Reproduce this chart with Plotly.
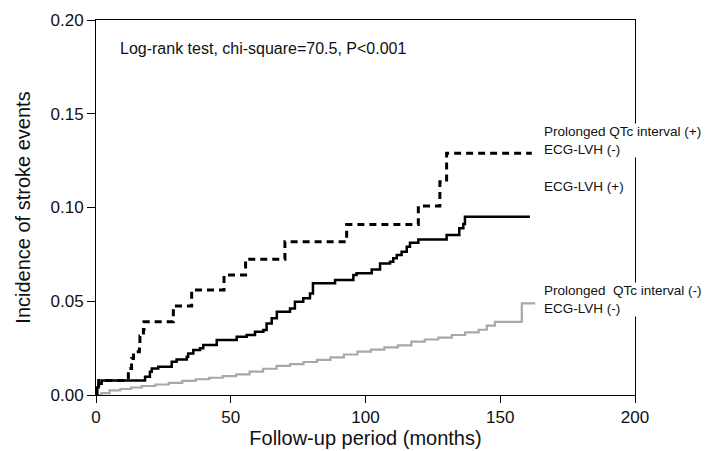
import plotly.graph_objects as go

# Prolonged QTc (+), ECG-LVH (-)  (dashed)
qtc_pos_months = [0, 0.4, 1.0, 12.0, 13.2, 13.9, 16.1, 16.3, 17.6, 17.8, 28.7, 35.5, 47.5, 55.5, 70.1, 93.0, 119.6, 127.6, 130.1, 161.7]
qtc_pos_values = [0, 0.005, 0.0078, 0.0142, 0.0195, 0.0231, 0.0267, 0.0315, 0.035, 0.0391, 0.0475, 0.056, 0.064, 0.0724, 0.0818, 0.091, 0.1008, 0.1138, 0.129, 0.129]

# ECG-LVH (+)  (solid black)
lvh_pos_months = [0, 0.3, 0.9, 2.1, 18.2, 20.0, 20.7, 23.1, 28.1, 29.9, 33.7, 34.2, 36.1, 38.6, 39.8, 44.8, 52.2, 55.9, 59.0, 62.1, 63.3, 65.2, 67.1, 72.0, 73.8, 76.9, 79.4, 80.5, 88.7, 95.5, 96.7, 102.3, 105.4, 109.1, 110.3, 111.6, 113.4, 115.3, 116.5, 119.6, 130.1, 134.8, 136.3, 136.9, 161.0]
lvh_pos_values = [0, 0.004, 0.006, 0.0078, 0.0098, 0.0124, 0.0142, 0.0151, 0.0178, 0.019, 0.0204, 0.0222, 0.024, 0.0249, 0.0267, 0.0293, 0.0311, 0.032, 0.0338, 0.0347, 0.0382, 0.0409, 0.0444, 0.0462, 0.0498, 0.0516, 0.0542, 0.0596, 0.0613, 0.064, 0.0649, 0.067, 0.0702, 0.0711, 0.0729, 0.0747, 0.0764, 0.0791, 0.0812, 0.083, 0.0853, 0.0889, 0.0912, 0.0951, 0.0951]

# Prolonged QTc (-), ECG-LVH (-)  (gray)
qtc_neg_months = [0, 2, 5, 9, 13, 17, 22, 27, 32, 37, 42, 47, 52, 57, 62, 67, 72, 77, 82, 87, 92, 97, 102, 107, 112, 117, 122, 127, 132, 137, 142, 145, 148, 158, 163]
qtc_neg_values = [0, 0.001, 0.0025, 0.0032, 0.004, 0.0048, 0.0056, 0.0065, 0.0075, 0.0084, 0.0092, 0.0101, 0.011, 0.0125, 0.014, 0.0155, 0.0165, 0.0176, 0.0187, 0.0201, 0.0216, 0.0231, 0.0242, 0.0254, 0.0265, 0.0285, 0.0296, 0.0306, 0.032, 0.0334, 0.0348, 0.037, 0.039, 0.0489, 0.0489]

x_ticks = [0, 50, 100, 150, 200]
y_ticks = [0.00, 0.05, 0.10, 0.15, 0.20]

FONT = "Liberation Sans, Arial, sans-serif"

fig = go.Figure()
fig.add_trace(go.Scatter(x=qtc_neg_months, y=qtc_neg_values, mode="lines", line_shape="hv",
                         line=dict(color="#a8a8a8", width=2.2), showlegend=False))
fig.add_trace(go.Scatter(x=lvh_pos_months, y=lvh_pos_values, mode="lines", line_shape="hv",
                         line=dict(color="black", width=2.5), showlegend=False))
fig.add_trace(go.Scatter(x=qtc_pos_months, y=qtc_pos_values, mode="lines", line_shape="hv",
                         line=dict(color="black", width=3, dash="7px,5px"), showlegend=False))

label_font = dict(family=FONT, size=13.5, color="#111")
fig.add_annotation(x=166.0, y=0.136, xref="x", yref="y", xanchor="left", yanchor="middle", align="left",
                   text="Prolonged QTc interval (+)<br>ECG-LVH (-)", showarrow=False, bgcolor="white",
                   font=label_font, borderpad=0)
fig.add_annotation(x=166.0, y=0.111, xref="x", yref="y", xanchor="left", yanchor="middle", align="left",
                   text="ECG-LVH (+)", showarrow=False, bgcolor="white", font=label_font, borderpad=0)
fig.add_annotation(x=166.0, y=0.0507, xref="x", yref="y", xanchor="left", yanchor="middle", align="left",
                   text="Prolonged\u00a0 QTc interval (-)<br>ECG-LVH (-)", showarrow=False, bgcolor="white",
                   font=label_font, borderpad=0)
fig.add_annotation(x=8.2, y=0.185, xref="x", yref="y", xanchor="left", yanchor="middle",
                   text="Log-rank test, chi-square=70.5, P<0.001", showarrow=False,
                   font=dict(family=FONT, size=16, color="#111"))

# page body adds an 8px margin, so the figure is 8px smaller and margins are shifted
fig.update_layout(
    width=703, height=443,
    margin=dict(l=88, r=76, t=12, b=56),
    paper_bgcolor="white", plot_bgcolor="white",
    font=dict(family=FONT, color="#111"),
)
fig.update_xaxes(range=[0, 200], tickvals=x_ticks, ticktext=[str(v) for v in x_ticks],
                 automargin=False,
                 showgrid=False, zeroline=False, showline=True, linecolor="black", linewidth=1,
                 mirror=True, ticks="outside", ticklen=7, tickcolor="black",
                 tickfont=dict(family=FONT, size=17),
                 title=dict(text="Follow-up period (months)", font=dict(family=FONT, size=20), standoff=3))
fig.update_yaxes(range=[0, 0.2], tickvals=y_ticks, ticktext=[f"{v:.2f}" for v in y_ticks],
                 automargin=False,
                 showgrid=False, zeroline=False, showline=True, linecolor="black", linewidth=1,
                 mirror=True, ticks="outside", ticklen=8, tickcolor="black",
                 tickfont=dict(family=FONT, size=17),
                 title=dict(text="Incidence of stroke events", font=dict(family=FONT, size=20), standoff=14))

fig.write_html("out.html")
